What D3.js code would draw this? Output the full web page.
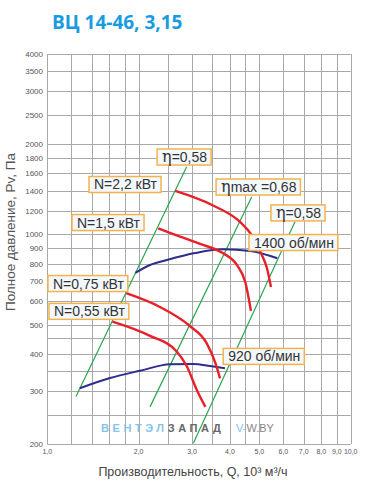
<!DOCTYPE html>
<html>
<head>
<meta charset="utf-8">
<script src="https://cdn.jsdelivr.net/npm/d3@7"></script>
<style>
  body { margin: 0; background: #fff; }
  text { font-family: "Liberation Sans", Arial, sans-serif; }
</style>
</head>
<body>
<svg id="chart"></svg>
<script>
var width = 371,
    height = 492;

// grid & ticks
var xGrid = [1, 1.2, 1.4, 1.6, 1.8, 2, 2.5, 3, 3.5, 4, 4.5, 5, 6, 7, 8, 9, 10],
    xTicks = [1, 2, 3, 4, 5, 6, 7, 8, 9, 10],
    yGrid = [200, 250, 300, 350, 400, 450, 500, 600, 700, 800, 900, 1000,
             1200, 1400, 1600, 1800, 2000, 2500, 3000, 3500, 4000],
    yTicks = [200, 300, 400, 500, 600, 700, 800, 900, 1000,
              1200, 1400, 1600, 1800, 2000, 2500, 3000, 3500, 4000];

// fan curves [Q, Pv]
var curve1400 = [[1.95, 744], [2.18, 791], [2.48, 822], [3.07, 867], [3.8, 892], [4.66, 881], [5.73, 833]],
    curve920  = [[1.28, 307], [1.61, 332], [2.02, 351], [2.54, 369], [3.03, 370], [3.44, 364], [3.85, 358]];

// power curves
var power22  = [[2.64, 1397], [3.49, 1254], [4.32, 1101], [4.7, 1000], [5.05, 870], [5.3, 770], [5.46, 668]],
    power15  = [[2.32, 1049], [2.74, 983], [3.19, 930], [3.8, 865], [4.22, 790], [4.5, 690], [4.69, 556]],
    power075 = [[1.82, 637], [2.35, 573], [2.95, 495], [3.35, 434], [3.57, 376], [3.71, 331]],
    power055 = [[1.64, 512], [2.18, 459], [2.67, 407], [2.88, 364], [3.11, 303], [3.32, 266]];

// efficiency lines
var eta58left  = [[1.243, 288], [2.88, 1683]],
    etaMax     = [[2.18, 266], [4.72, 1337]],
    eta58right = [[3.03, 201], [6.55, 1103]];

// annotation boxes: text, anchor Q (left edge), anchor Pv (vertical centre)
var labels = [
  {eta: true, text: "=0,58", q: 2.30, p: 1813},
  {text: "N=2,2 кВт", q: 1.372, p: 1468},
  {text: "N=1,5 кВт", q: 1.206, p: 1096},
  {eta: true, text: "max =0,68", q: 3.60, p: 1440},
  {eta: true, text: "=0,58", q: 5.46, p: 1180},
  {text: "1400 об/мин", q: 4.62, p: 940},
  {text: "N=0,75 кВт", q: 1.005, p: 686},
  {text: "N=0,55 кВт", q: 1.013, p: 554},
  {text: "920 об/мин", q: 3.80, p: 392}
];

var svg = d3.select("#chart")
            .attr("width", width)
            .attr("height", height);

var x = d3.scaleLog().domain([1, 10]).range([47.3, 350.7]),
    y = d3.scaleLog().domain([200, 4000]).range([444, 54]);

// title
svg.append("text")
   .attr("x", 52).attr("y", 29)
   .style("font-family", "'Open Sans', sans-serif")
   .style("font-weight", "bold")
   .style("font-size", "19px")
   .attr("fill", "#1a9be0")
   .text("ВЦ 14-46, 3,15");

//Grid
var grid = svg.append("g").attr("stroke", "#a8a8a8").attr("stroke-width", 1);
grid.selectAll(".vx").data(xGrid).enter().append("line")
    .attr("x1", function(d) { return Math.round(x(d)) + 0.5; })
    .attr("x2", function(d) { return Math.round(x(d)) + 0.5; })
    .attr("y1", y(4000)).attr("y2", y(200));
grid.selectAll(".hy").data(yGrid).enter().append("line")
    .attr("y1", function(d) { return Math.round(y(d)) + 0.5; })
    .attr("y2", function(d) { return Math.round(y(d)) + 0.5; })
    .attr("x1", x(1)).attr("x2", x(10));

// tick labels
svg.selectAll(".yt").data(yTicks).enter().append("text")
   .attr("x", 43)
   .attr("y", function(d) { return y(d) + 3; })
   .attr("text-anchor", "end")
   .style("font-size", "8px")
   .attr("fill", "#555")
   .text(function(d) { return d; });

svg.selectAll(".xt").data(xTicks).enter().append("text")
   .attr("x", function(d) { return x(d); })
   .attr("y", 454)
   .attr("text-anchor", "middle")
   .style("font-size", "7px")
   .attr("fill", "#555")
   .text(function(d) { return d.toFixed(1).replace(".", ","); });

// axis titles
svg.append("text")
   .attr("transform", "translate(15,232) rotate(-90)")
   .attr("text-anchor", "middle")
   .style("font-size", "13.5px")
   .attr("fill", "#555")
   .text("Полное давление, Pv, Па");

svg.append("text")
   .attr("x", 193).attr("y", 476)
   .attr("text-anchor", "middle")
   .style("font-size", "12.5px")
   .attr("fill", "#444")
   .text("Производительность, Q, 10³ м³/ч");

// watermark
var wm = svg.append("text")
   .attr("x", 101).attr("y", 432)
   .style("font-size", "11px")
   .style("font-weight", "bold")
   .style("letter-spacing", "3.6px");
wm.append("tspan").attr("fill", "#86c3ea").text("ВЕНТЭЛ");
wm.append("tspan").attr("fill", "#666").text("ЗАПАД");
var wm2 = svg.append("text")
   .attr("x", 236).attr("y", 432)
   .style("font-size", "11px");
wm2.append("tspan").attr("fill", "#86c3ea").text("V-");
wm2.append("tspan").attr("fill", "#888").text("W.BY");

//Curves
var line = d3.line()
    .x(function(d) { return x(d[0]); })
    .y(function(d) { return y(d[1]); })
    .curve(d3.curveMonotoneX);

[eta58left, etaMax, eta58right].forEach(function(d) {
  svg.append("path").datum(d)
     .attr("d", line)
     .attr("fill", "none")
     .attr("stroke", "#2aa552")
     .attr("stroke-width", 1.2);
});

[curve1400, curve920].forEach(function(d) {
  svg.append("path").datum(d)
     .attr("d", line)
     .attr("fill", "none")
     .attr("stroke", "#2e2c8c")
     .attr("stroke-width", 2);
});

[power22, power15, power075, power055].forEach(function(d) {
  svg.append("path").datum(d)
     .attr("d", line)
     .attr("fill", "none")
     .attr("stroke", "#e8202a")
     .attr("stroke-width", 2.4);
});

//Labels
labels.forEach(function(l) {
  var g = svg.append("g")
             .attr("transform", "translate(" + x(l.q) + "," + y(l.p) + ")");
  var rect = g.append("rect");
  var t = g.append("text")
           .attr("x", 5).attr("y", 5)
           .style("font-size", "14px")
           .attr("fill", "#333");
  if (l.eta) {
    t.append("tspan")
     .style("font-family", "'DejaVu Serif', serif")
     .style("font-size", "16px")
     .text("η");
  }
  t.append("tspan").text(l.text);
  var w = t.node().getComputedTextLength();
  rect.attr("x", 0).attr("y", -8)
      .attr("width", w + 9).attr("height", 16)
      .attr("fill", "#f3f8fd")
      .attr("stroke", "#f3b34a")
      .attr("stroke-width", 1.5);
});
</script>
</body>
</html>
